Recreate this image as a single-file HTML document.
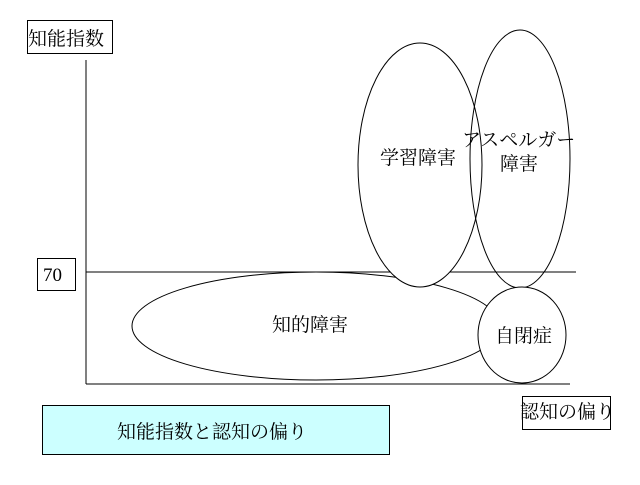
<!DOCTYPE html>
<html><head><meta charset="utf-8"><style>
body{margin:0;background:#fff}
svg text{font-family:"Liberation Serif","Noto Serif CJK SC","Noto Sans CJK JP",serif;font-size:19px;fill:#000}
</style></head><body>
<svg width="640" height="480" xmlns="http://www.w3.org/2000/svg">
<rect width="640" height="480" fill="#fff"/>
<g fill="none" stroke="#000" stroke-width="1">
<line x1="86" y1="60" x2="86" y2="384"/>
<line x1="86" y1="384" x2="570" y2="384"/>
<line x1="86" y1="272" x2="576" y2="272"/>
<ellipse cx="316" cy="326" rx="184" ry="54" fill="#fff"/>
<ellipse cx="420" cy="165" rx="62" ry="122" fill="#fff"/>
<ellipse cx="520" cy="159" rx="50" ry="129"/>
<ellipse cx="522" cy="335" rx="44" ry="48" fill="#fff"/>
</g>
<rect x="27.5" y="20.5" width="85" height="33" fill="#fff" stroke="#000"/>
<text x="28" y="45">知能指数</text>
<rect x="37.5" y="258.5" width="38" height="32" fill="#fff" stroke="#000"/>
<text x="43" y="281">70</text>
<text x="380" y="164">学習障害</text>
<text x="462" y="146">アスペルガー</text>
<text x="500" y="170">障害</text>
<text x="272" y="331">知的障害</text>
<text x="495" y="342">自閉症</text>
<rect x="522.5" y="396.5" width="88" height="33" fill="#fff" stroke="#000"/>
<text x="520" y="418">認知の偏り</text>
<rect x="42.5" y="405.5" width="347" height="49" fill="#ccffff" stroke="#000"/>
<text x="117" y="438">知能指数と認知の偏り</text>
</svg>
</body></html>
